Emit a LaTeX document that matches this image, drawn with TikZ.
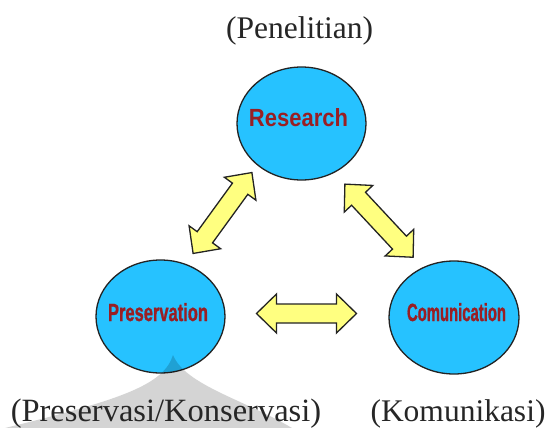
\documentclass[tikz,border=0pt]{standalone}
\usepackage{fontspec}
\usepackage{graphicx}
\setmainfont{Liberation Serif}
\newfontfamily\boldsans{Liberation Sans}
\newfontfamily\heavysans[FakeBold=1.2]{Liberation Sans Bold}
\usetikzlibrary{shapes.geometric}
\definecolor{bubble}{RGB}{38,194,255}
\definecolor{wordred}{RGB}{153,31,36}
\definecolor{arrowyellow}{RGB}{255,255,128}
\definecolor{outline}{RGB}{35,35,35}
\tikzset{
  bubblenode/.style={ellipse, draw=outline, line width=1.3pt, fill=bubble, inner sep=0pt},
  wordnode/.style={inner sep=0pt, text=wordred, anchor=base},
  caption/.style={inner sep=0pt, anchor=base, font=\fontsize{31.5}{36}\selectfont, text=black!85},
  arrowbody/.style={draw=outline, line width=1.3pt, fill=arrowyellow, line join=miter},
  dblarrow/.pic={\draw[arrowbody] (-50,0) -- (-30,-19.5) -- (-30,-9.5) -- (30,-9.5) -- (30,-19.5) -- (50,0) -- (30,19.5) -- (30,9.5) -- (-30,9.5) -- (-30,19.5) -- cycle;}
}
\begin{document}
\begin{tikzpicture}[x=1pt,y=-1pt]
\useasboundingbox (0,0) rectangle (552,428);
\fill[white] (0,0) rectangle (552,428);
% bubbles
\node[bubblenode, minimum width=129pt, minimum height=113pt] (research) at (301.5,123.5) {};
\node[bubblenode, minimum width=129pt, minimum height=113pt] (preservation) at (160.5,316.5) {};
\node[bubblenode, minimum width=130pt, minimum height=113pt] (comunication) at (454,317.5) {};
% words in bubbles
\node[wordnode] (researchtxt) at (298.5,127) {\resizebox{99pt}{18pt}{\boldsans\bfseries Research}};
\node[wordnode] (preservationtxt) at (158,321) {\resizebox{100pt}{18pt}{\heavysans Preservation}};
\node[wordnode] (comunicationtxt) at (456.5,321) {\resizebox{99pt}{18pt}{\heavysans Comunication}};
% block arrows
\pic[rotate=54] (arrowleft) at (222.5,213) {dblarrow};
\pic[rotate=-47] (arrowright) at (379,220.7) {dblarrow};
\pic (arrowbottom) at (306.5,313.5) {dblarrow};
% grey shadow
\fill[black, opacity=0.17] (173,355) .. controls (164,385) and (120,400) .. (5,428)
  -- (292,428) .. controls (245,400) and (185,385) .. (173,355) -- cycle;
% captions
\node[caption] (penelitian) at (299.5,39) {(Penelitian)};
\node[caption, font=\fontsize{32.5}{36}\selectfont] (konservasi) at (166,421) {(Preservasi/Konservasi)};
\node[caption] (komunikasi) at (458,421) {(Komunikasi)};
\end{tikzpicture}
\end{document}
